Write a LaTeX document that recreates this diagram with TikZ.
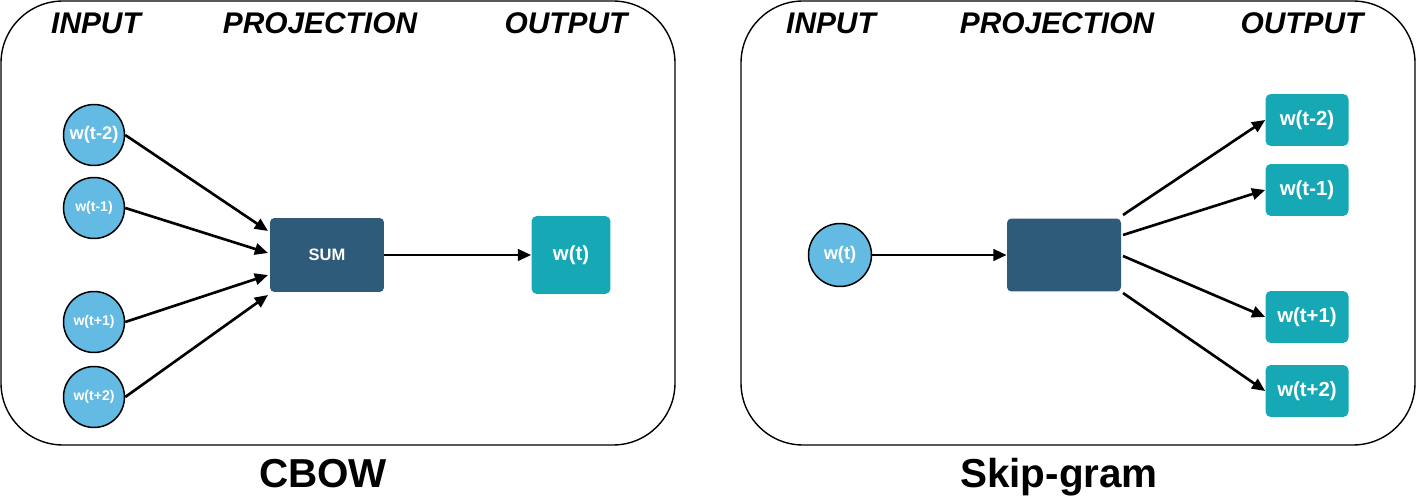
\documentclass[tikz,border=0pt]{standalone}
\usepackage{fontspec}
\setmainfont{Liberation Sans}
\usetikzlibrary{arrows.meta}
\definecolor{cin}{RGB}{99,186,226}
\definecolor{cproj}{RGB}{47,91,122}
\definecolor{cout}{RGB}{22,169,181}
\tikzset{
  panel/.style={draw=black, line width=0.8pt, rounded corners=1.24cm},
  title/.style={anchor=base, font=\fontsize{17}{20}\selectfont\bfseries\itshape},
  caption/.style={anchor=base, font=\fontsize{23}{26}\selectfont\bfseries},
  wcirc/.style={circle, draw=black, line width=0.85pt, fill=cin, text=white, minimum size=1.22cm, inner sep=0pt},
  projbox/.style={rectangle, fill=cproj, rounded corners=2.5pt, text=white, inner sep=0pt},
  outbox/.style={rectangle, fill=cout, rounded corners=3pt, text=white, inner sep=0pt},
  arr/.style={line width=1.5pt, -{Triangle[length=7.5pt,width=6.5pt]}},
  smalltxt/.style={font=\fontsize{8}{9}\selectfont\bfseries},
  midtxt/.style={font=\fontsize{10.4}{12}\selectfont\bfseries},
  bigtxt/.style={font=\fontsize{11.6}{13}\selectfont\bfseries}
}
\begin{document}
\begin{tikzpicture}[x=0.02cm, y=-0.02cm]
\useasboundingbox (0,0) rectangle (1417,496);
% panels
\draw[panel] (1,1) rectangle (675,445);
\draw[panel] (741,1) rectangle (1415,445);
% titles
\node[title] (tl1) at (96,34) {INPUT};
\node[title] (tl2) at (320,34) {PROJECTION};
\node[title] (tl3) at (566,34) {OUTPUT};
\node[title] (tr1) at (831,34) {INPUT};
\node[title] (tr2) at (1057,34) {PROJECTION};
\node[title] (tr3) at (1302,34) {OUTPUT};
% captions
\node[caption] (cap1) at (323,488) {CBOW};
\node[caption] (cap2) at (1059,488) {Skip-gram};
% CBOW
\node[wcirc, midtxt] (i1) at (94,135) {w(t-2)};
\node[wcirc, smalltxt] (i2) at (94,208) {w(t-1)};
\node[wcirc, smalltxt] (i3) at (94,322) {w(t+1)};
\node[wcirc, smalltxt] (i4) at (94,397) {w(t+2)};
\node[projbox, minimum width=2.28cm, minimum height=1.48cm, font=\fontsize{9.4}{11}\selectfont\bfseries] (sum) at (327,255) {SUM};
\node[outbox, minimum width=1.58cm, minimum height=1.56cm, bigtxt] (out) at (571,255) {w(t)};
\coordinate (t1) at (268,231);
\coordinate (t2) at (268,253);
\coordinate (t3) at (268,275);
\coordinate (t4) at (268,295);
\draw[arr] (i1.east) -- (t1);
\draw[arr] (i2.east) -- (t2);
\draw[arr] (i3.east) -- (t3);
\draw[arr] (i4.east) -- (t4);
\draw[arr] (sum.east) -- (out.west);
% Skip-gram
\node[wcirc, minimum size=1.26cm, midtxt] (win) at (840,255) {w(t)};
\node[projbox, minimum width=2.28cm, minimum height=1.46cm] (proj) at (1064,255) {};
\node[outbox, minimum width=1.66cm, minimum height=1.04cm, bigtxt] (o1) at (1307,120) {w(t-2)};
\node[outbox, minimum width=1.66cm, minimum height=1.04cm, bigtxt] (o2) at (1307,190) {w(t-1)};
\node[outbox, minimum width=1.66cm, minimum height=1.04cm, bigtxt] (o3) at (1307,317) {w(t+1)};
\node[outbox, minimum width=1.66cm, minimum height=1.04cm, bigtxt] (o4) at (1307,391) {w(t+2)};
\draw[arr] (win.east) -- (proj.west);
\coordinate (s1) at (1123,215);
\coordinate (s2) at (1123,235);
\coordinate (s3) at (1123,256);
\coordinate (s4) at (1123,293);
\draw[arr] (s1) -- (o1.west);
\draw[arr] (s2) -- (o2.west);
\draw[arr] (s3) -- (o3.west);
\draw[arr] (s4) -- (o4.west);
\end{tikzpicture}
\end{document}
